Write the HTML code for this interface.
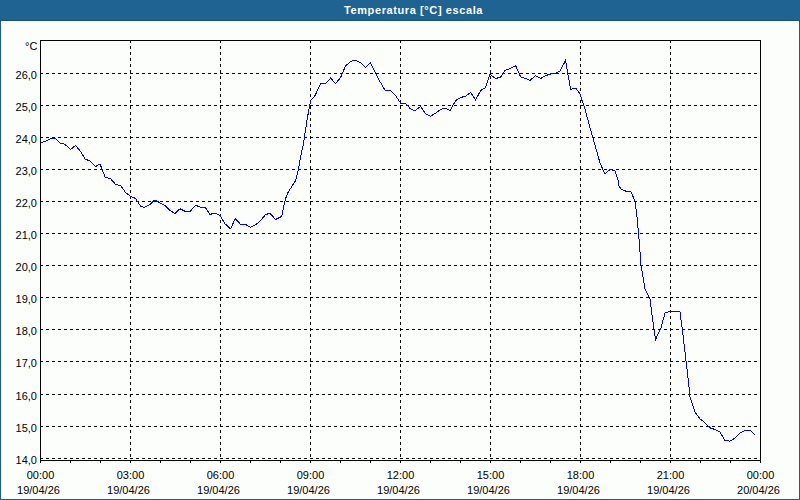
<!DOCTYPE html>
<html><head><meta charset="utf-8"><style>
html,body{margin:0;padding:0;}
body{width:800px;height:500px;position:relative;overflow:hidden;background:#fcfefc;font-family:"Liberation Sans",sans-serif;}
#frame{position:absolute;left:0;top:0;width:798px;height:499px;border:1px solid #1c5a92;border-top:none;}
#title{position:absolute;left:0;top:0;width:800px;height:20px;background:#1e6291;border-bottom:1px solid #175089;}
#tp{position:absolute;left:0;top:0;}
#tt{position:absolute;left:344px;top:4px;font:bold 11px/13px "Liberation Sans",sans-serif;color:#fff;letter-spacing:0.6px;white-space:nowrap;}
.yl{position:absolute;left:0;width:37px;text-align:right;font:11px/13px "Liberation Sans",sans-serif;color:#000;}
.xl{position:absolute;width:81px;text-align:center;font:11px/13px "Liberation Sans",sans-serif;color:#000;}
#unit{position:absolute;left:25px;top:40px;font:11px/13px "Liberation Sans",sans-serif;color:#000;}
svg{position:absolute;left:0;top:0;}
</style></head><body>
<div id="frame"></div>
<div id="title"><svg id="tp" width="800" height="20"><defs><pattern id="dp" width="4" height="4" patternUnits="userSpaceOnUse"><rect x="1" y="0" width="1" height="1" fill="#2462b4"/><rect x="3" y="2" width="1" height="1" fill="#2462b4"/></pattern></defs><rect width="800" height="20" fill="url(#dp)"/></svg><div id="tt">Temperatura [°C] escala</div></div>
<svg width="800" height="500" shape-rendering="crispEdges">
<line x1="40" y1="73.5" x2="760" y2="73.5" stroke="#000" stroke-dasharray="3 3"/>
<line x1="40" y1="105.5" x2="760" y2="105.5" stroke="#000" stroke-dasharray="3 3"/>
<line x1="40" y1="137.5" x2="760" y2="137.5" stroke="#000" stroke-dasharray="3 3"/>
<line x1="40" y1="169.5" x2="760" y2="169.5" stroke="#000" stroke-dasharray="3 3"/>
<line x1="40" y1="201.5" x2="760" y2="201.5" stroke="#000" stroke-dasharray="3 3"/>
<line x1="40" y1="233.5" x2="760" y2="233.5" stroke="#000" stroke-dasharray="3 3"/>
<line x1="40" y1="265.5" x2="760" y2="265.5" stroke="#000" stroke-dasharray="3 3"/>
<line x1="40" y1="297.5" x2="760" y2="297.5" stroke="#000" stroke-dasharray="3 3"/>
<line x1="40" y1="329.5" x2="760" y2="329.5" stroke="#000" stroke-dasharray="3 3"/>
<line x1="40" y1="361.5" x2="760" y2="361.5" stroke="#000" stroke-dasharray="3 3"/>
<line x1="40" y1="394.5" x2="760" y2="394.5" stroke="#000" stroke-dasharray="3 3"/>
<line x1="40" y1="426.5" x2="760" y2="426.5" stroke="#000" stroke-dasharray="3 3"/>
<line x1="40" y1="458.5" x2="760" y2="458.5" stroke="#000" stroke-dasharray="3 3"/>
<line x1="130.5" y1="40" x2="130.5" y2="460" stroke="#000" stroke-dasharray="3 3"/>
<line x1="220.5" y1="40" x2="220.5" y2="460" stroke="#000" stroke-dasharray="3 3"/>
<line x1="310.5" y1="40" x2="310.5" y2="460" stroke="#000" stroke-dasharray="3 3"/>
<line x1="400.5" y1="40" x2="400.5" y2="460" stroke="#000" stroke-dasharray="3 3"/>
<line x1="490.5" y1="40" x2="490.5" y2="460" stroke="#000" stroke-dasharray="3 3"/>
<line x1="580.5" y1="40" x2="580.5" y2="460" stroke="#000" stroke-dasharray="3 3"/>
<line x1="670.5" y1="40" x2="670.5" y2="460" stroke="#000" stroke-dasharray="3 3"/>
<line x1="40.5" y1="460" x2="40.5" y2="463" stroke="#000"/>
<line x1="70.5" y1="460" x2="70.5" y2="463" stroke="#000"/>
<line x1="100.5" y1="460" x2="100.5" y2="463" stroke="#000"/>
<line x1="130.5" y1="460" x2="130.5" y2="463" stroke="#000"/>
<line x1="160.5" y1="460" x2="160.5" y2="463" stroke="#000"/>
<line x1="190.5" y1="460" x2="190.5" y2="463" stroke="#000"/>
<line x1="220.5" y1="460" x2="220.5" y2="463" stroke="#000"/>
<line x1="250.5" y1="460" x2="250.5" y2="463" stroke="#000"/>
<line x1="280.5" y1="460" x2="280.5" y2="463" stroke="#000"/>
<line x1="310.5" y1="460" x2="310.5" y2="463" stroke="#000"/>
<line x1="340.5" y1="460" x2="340.5" y2="463" stroke="#000"/>
<line x1="370.5" y1="460" x2="370.5" y2="463" stroke="#000"/>
<line x1="400.5" y1="460" x2="400.5" y2="463" stroke="#000"/>
<line x1="430.5" y1="460" x2="430.5" y2="463" stroke="#000"/>
<line x1="460.5" y1="460" x2="460.5" y2="463" stroke="#000"/>
<line x1="490.5" y1="460" x2="490.5" y2="463" stroke="#000"/>
<line x1="520.5" y1="460" x2="520.5" y2="463" stroke="#000"/>
<line x1="550.5" y1="460" x2="550.5" y2="463" stroke="#000"/>
<line x1="580.5" y1="460" x2="580.5" y2="463" stroke="#000"/>
<line x1="610.5" y1="460" x2="610.5" y2="463" stroke="#000"/>
<line x1="640.5" y1="460" x2="640.5" y2="463" stroke="#000"/>
<line x1="670.5" y1="460" x2="670.5" y2="463" stroke="#000"/>
<line x1="700.5" y1="460" x2="700.5" y2="463" stroke="#000"/>
<line x1="730.5" y1="460" x2="730.5" y2="463" stroke="#000"/>
<line x1="760.5" y1="460" x2="760.5" y2="463" stroke="#000"/>
<rect x="40.5" y="40.5" width="720" height="420" fill="none" stroke="#000"/>
<polyline points="40.6,142.5 45.0,141.5 52.5,138.0 55.0,138.0 60.0,143.0 65.0,144.4 70.6,149.4 75.6,145.4 81.0,152.0 85.0,159.0 90.0,161.0 95.6,166.5 100.0,164.0 102.0,168.8 105.0,177.0 110.6,178.8 115.6,184.4 120.6,185.6 125.6,192.5 130.6,196.2 135.6,198.5 140.6,206.2 144.4,207.5 150.0,204.4 155.0,199.8 160.0,203.0 165.0,205.6 170.0,210.6 175.0,213.4 180.0,208.8 185.0,211.2 190.0,211.5 195.6,205.2 200.0,207.1 205.0,207.1 210.0,214.4 215.0,213.1 220.0,215.6 225.0,223.8 230.6,228.8 235.2,218.5 240.6,224.4 245.6,224.6 250.6,227.2 255.6,224.8 260.6,220.6 265.6,214.4 270.0,213.5 275.6,219.4 280.6,217.0 282.0,215.0 283.5,207.0 285.0,201.0 286.0,197.5 288.0,192.5 290.5,188.5 293.0,184.5 295.5,180.6 298.5,169.0 301.5,152.0 303.5,143.8 304.5,137.0 305.5,130.0 307.0,120.0 310.6,100.6 315.0,95.6 320.6,83.5 325.6,83.5 330.6,78.1 335.6,83.5 340.6,77.5 345.5,66.0 350.5,61.5 355.0,60.2 360.6,62.8 365.6,67.5 370.6,62.8 375.0,71.9 379.4,80.6 385.0,90.2 390.6,90.6 395.6,95.6 400.6,103.1 405.6,103.5 410.6,109.0 415.0,110.6 420.6,106.5 425.6,113.8 430.6,116.2 435.6,113.1 440.6,109.4 445.0,108.1 450.0,110.6 455.6,100.6 460.6,97.5 465.6,96.2 470.6,92.5 475.6,100.0 480.6,90.6 485.6,87.5 490.0,74.4 495.6,78.5 500.6,77.2 505.0,70.6 510.0,68.5 515.6,65.6 520.6,76.9 525.6,78.5 530.0,80.4 535.6,75.6 540.6,78.5 545.6,75.6 550.6,74.0 555.6,73.1 560.0,71.2 565.5,60.5 570.6,89.4 575.6,88.1 580.5,94.4 581.8,100.0 585.0,109.0 590.0,128.0 595.0,145.0 600.0,163.0 605.0,174.0 610.0,169.4 615.0,171.0 618.0,180.0 619.0,186.0 621.0,189.0 624.0,190.4 627.0,191.6 629.0,191.0 631.0,192.0 635.0,201.0 637.0,217.0 639.0,239.0 641.0,265.0 642.0,271.0 645.0,289.0 650.0,299.0 652.0,315.0 655.5,339.5 661.0,328.0 665.0,313.0 670.0,311.4 680.0,312.0 683.0,335.0 686.0,361.0 688.4,381.0 690.0,397.0 695.0,412.0 700.0,419.0 703.5,421.6 710.5,428.1 714.9,429.4 719.7,431.6 724.9,440.2 729.8,441.2 733.7,439.0 740.2,433.0 744.6,430.6 750.3,430.6 754.7,434.7" fill="none" stroke="#0000ff" stroke-width="1"/>
</svg>
<div id="unit">°C</div>
<div class="yl" style="top:69px">26,0</div>
<div class="yl" style="top:101px">25,0</div>
<div class="yl" style="top:133px">24,0</div>
<div class="yl" style="top:165px">23,0</div>
<div class="yl" style="top:197px">22,0</div>
<div class="yl" style="top:229px">21,0</div>
<div class="yl" style="top:261px">20,0</div>
<div class="yl" style="top:293px">19,0</div>
<div class="yl" style="top:325px">18,0</div>
<div class="yl" style="top:357px">17,0</div>
<div class="yl" style="top:390px">16,0</div>
<div class="yl" style="top:422px">15,0</div>
<div class="yl" style="top:454px">14,0</div>
<div class="xl" style="left:0px;top:469px">00:00</div>
<div class="xl" style="left:-2px;top:484px">19/04/26</div>
<div class="xl" style="left:90px;top:469px">03:00</div>
<div class="xl" style="left:88px;top:484px">19/04/26</div>
<div class="xl" style="left:180px;top:469px">06:00</div>
<div class="xl" style="left:178px;top:484px">19/04/26</div>
<div class="xl" style="left:270px;top:469px">09:00</div>
<div class="xl" style="left:268px;top:484px">19/04/26</div>
<div class="xl" style="left:360px;top:469px">12:00</div>
<div class="xl" style="left:358px;top:484px">19/04/26</div>
<div class="xl" style="left:450px;top:469px">15:00</div>
<div class="xl" style="left:448px;top:484px">19/04/26</div>
<div class="xl" style="left:540px;top:469px">18:00</div>
<div class="xl" style="left:538px;top:484px">19/04/26</div>
<div class="xl" style="left:630px;top:469px">21:00</div>
<div class="xl" style="left:628px;top:484px">19/04/26</div>
<div class="xl" style="left:720px;top:469px">00:00</div>
<div class="xl" style="left:718px;top:484px">20/04/26</div>
</body></html>
